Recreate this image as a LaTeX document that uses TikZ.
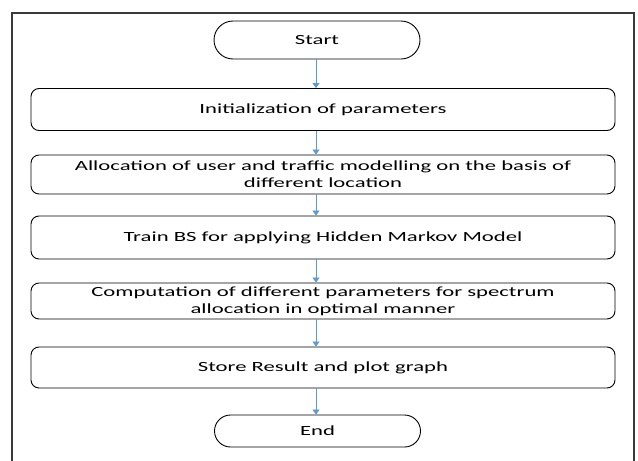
\documentclass[tikz,border=0pt]{standalone}
\usepackage{fontspec}
\setmainfont{Carlito}[FakeStretch=1.62]
\usetikzlibrary{arrows.meta}
\definecolor{flowblue}{HTML}{5B9BD5}
\definecolor{framegray}{HTML}{3A3A3A}
\begin{document}
\begin{tikzpicture}[x=1pt, y=-1pt,
  font=\fontsize{14}{17}\selectfont,
  stepbox/.style={draw, line width=0.9pt, rounded corners=8pt,
    minimum width=584pt, align=center, inner sep=0pt},
  terminal/.style={draw, line width=0.9pt, minimum width=206pt, inner sep=0pt},
  flow/.style={draw=flowblue, line width=0.8pt,
    -{Triangle[length=5pt, width=7pt]}}]
\useasboundingbox (0,0) rectangle (638,461);
\fill[white] (0,0) rectangle (638,461);
\begin{scope}
  \clip (0,0) rectangle (638,461);
  \draw[framegray, line width=1.3pt] (12,470) -- (12,13) -- (634,13) -- (634,470);
\end{scope}

% terminals and process steps
\node[terminal, minimum height=38pt, rounded corners=19pt] (start) at (317,40) {Start};
\node[stepbox, minimum height=42pt] (b1) at (323,109.5) {Initialization of parameters};
\node[stepbox, minimum height=39pt] (b2) at (323,174.5)
  {Allocation of user and traffic modelling on the basis of\\ different location};
\node[stepbox, minimum height=43pt] (b3) at (323,237.5) {Train BS for applying Hidden Markov Model};
\node[stepbox, minimum height=36pt] (b4) at (323,301)
  {Computation of different parameters for spectrum\\ allocation in optimal manner};
\node[stepbox, minimum height=41pt] (b5) at (323,367.5) {Store Result and plot graph};
\node[terminal, minimum height=32pt, rounded corners=16pt] (stop) at (317.5,431) {End};

% connectors
\coordinate (ax) at (316,0);
\draw[flow] (start.south -| ax) -- (b1.north -| ax);
\draw[flow] (b1.south -| ax) -- (b2.north -| ax);
\draw[flow] (b2.south -| ax) -- (b3.north -| ax);
\draw[flow] (b3.south -| ax) -- (b4.north -| ax);
\draw[flow] (b4.south -| ax) -- (b5.north -| ax);
\draw[flow] (b5.south -| ax) -- (stop.north -| ax);
\end{tikzpicture}
\end{document}
